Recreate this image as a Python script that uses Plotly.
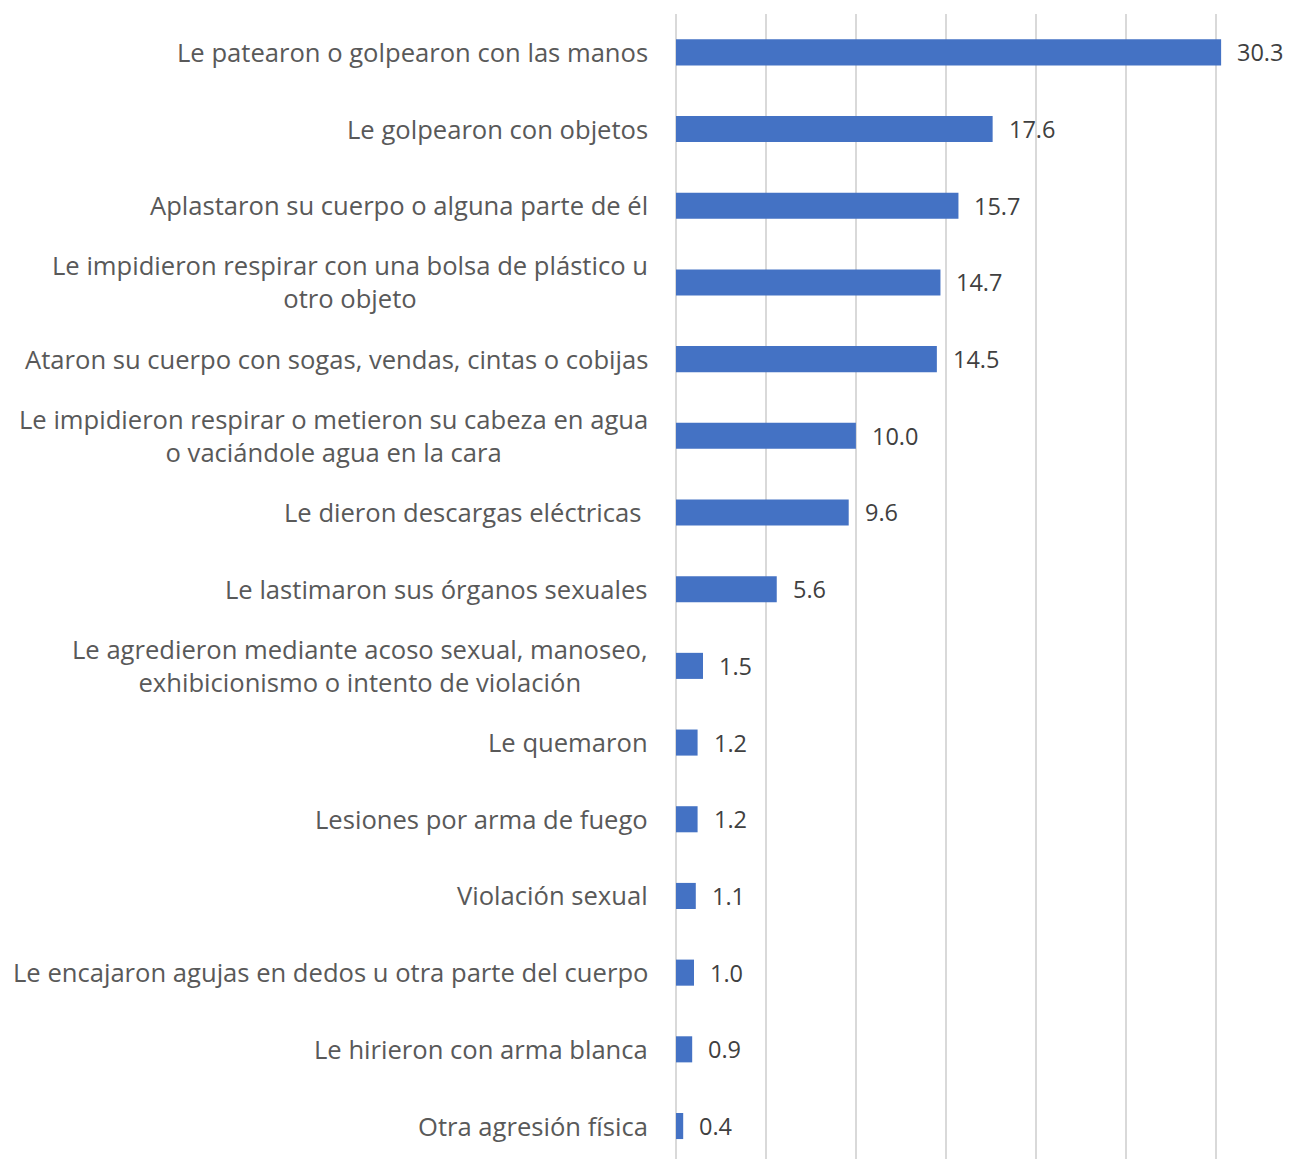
import plotly.graph_objects as go

categories = [
    "Le patearon o golpearon con las manos",
    "Le golpearon con objetos",
    "Aplastaron su cuerpo o alguna parte de él",
    "Le impidieron respirar con una bolsa de plástico u<br>otro objeto",
    "Ataron su cuerpo con sogas, vendas, cintas o cobijas",
    "Le impidieron respirar o metieron su cabeza en agua<br>o vaciándole agua en la cara",
    "Le dieron descargas eléctricas\u00a0",
    "Le lastimaron sus órganos sexuales",
    "Le agredieron mediante acoso sexual, manoseo,<br>exhibicionismo o intento de violación",
    "Le quemaron",
    "Lesiones por arma de fuego",
    "Violación sexual",
    "Le encajaron agujas en dedos u otra parte del cuerpo",
    "Le hirieron con arma blanca",
    "Otra agresión física",
]
values = [30.3, 17.6, 15.7, 14.7, 14.5, 10.0, 9.6, 5.6, 1.5, 1.2, 1.2, 1.1, 1.0, 0.9, 0.4]
value_labels = ["30.3", "17.6", "15.7", "14.7", "14.5", "10.0", "9.6", "5.6", "1.5", "1.2", "1.2", "1.1", "1.0", "0.9", "0.4"]

FONT = "Open Sans"
TXT = "#595959"

fig = go.Figure(go.Bar(
    x=values, y=list(range(len(categories))), orientation="h",
    marker=dict(color="#4472C4", line=dict(width=0)), width=0.34,
    hoverinfo="skip",
))

annotations = []
for i, (c, v, t) in enumerate(zip(categories, values, value_labels)):
    annotations.append(dict(x=0, xref="paper", y=i, yref="y", text=c, showarrow=False,
                            xanchor="right", yanchor="middle", align="center", xshift=-26,
                            font=dict(family=FONT, size=25.6, color=TXT)))
    annotations.append(dict(x=v, xref="x", y=i, yref="y", text=t, showarrow=False,
                            xanchor="left", yanchor="middle", xshift=14,
                            font=dict(family=FONT, size=23.5, color="#404040")))

fig.update_layout(
    width=1284, height=1151,
    margin=dict(l=668, r=0, t=6, b=0),
    paper_bgcolor="white", plot_bgcolor="white",
    showlegend=False,
    annotations=annotations,
    xaxis=dict(range=[0, 34.24], dtick=5, tick0=0, showticklabels=False,
               showgrid=True, gridcolor="#D9D9D9", gridwidth=1.5,
               zeroline=True, zerolinecolor="#D9D9D9", zerolinewidth=1.5, fixedrange=True),
    yaxis=dict(range=[14.43, -0.5], showticklabels=False, showgrid=False,
               zeroline=False, fixedrange=True),
)

fig.write_html("out.html")
